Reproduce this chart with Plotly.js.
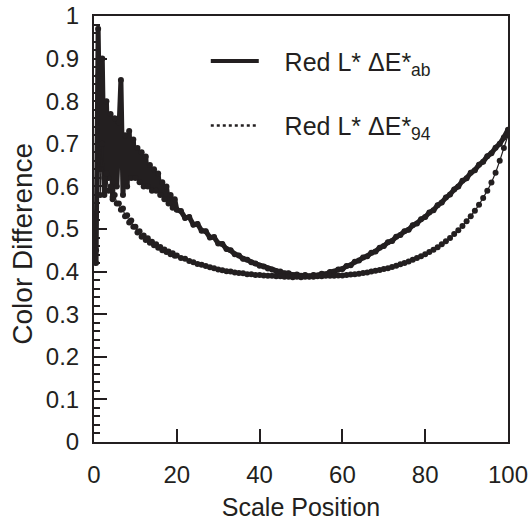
<!DOCTYPE html>
<html>
<head>
<meta charset="utf-8">
<script src="https://cdn.plot.ly/plotly-3.0.1.min.js"></script>
<style>html,body{margin:0;padding:0;background:#fff;}#chart{width:530px;height:521px;}</style>
</head>
<body>
<div id="chart"></div>
<script>
// Scale positions (x) shared by both series
const scalePosition = [
  0.5, 1, 1.5, 2, 2.5, 3, 3.5, 4, 4.5, 5, 5.5, 6, 6.5, 7, 7.5, 8, 8.5, 9, 9.5, 10,
  10.5, 11, 11.5, 12, 12.5, 13, 13.5, 14, 14.5, 15, 15.5, 16, 16.5, 17, 17.5, 18, 18.5, 19, 19.5, 20,
  21, 22, 23, 24, 25, 26, 27, 28, 29, 30, 31, 32, 33, 34, 35, 36, 37, 38, 39, 40,
  41, 42, 43, 44, 45, 46, 47, 48, 49, 50, 51, 52, 53, 54, 55, 56, 57, 58, 59, 60,
  61, 62, 63, 64, 65, 66, 67, 68, 69, 70, 71, 72, 73, 74, 75, 76, 77, 78, 79, 80,
  81, 82, 83, 84, 85, 86, 87, 88, 89, 90, 91, 92, 93, 94, 95, 96, 97, 98, 99, 100
];

// Red L* ΔE*ab (solid, noisy)
const deltaEab = [
  0.42, 0.97, 0.64, 0.90, 0.58, 0.80, 0.62, 0.77, 0.57, 0.76, 0.60, 0.75, 0.85, 0.58, 0.72, 0.60, 0.73, 0.62, 0.71, 0.62,
  0.69, 0.61, 0.68, 0.60, 0.67, 0.60, 0.65, 0.59, 0.64, 0.59, 0.63, 0.58, 0.61, 0.57, 0.60, 0.56, 0.58, 0.55, 0.57, 0.545,
  0.542, 0.526, 0.528, 0.510, 0.512, 0.496, 0.495, 0.480, 0.481, 0.466, 0.465, 0.453, 0.450, 0.441, 0.438, 0.430, 0.428, 0.422, 0.419, 0.414,
  0.412, 0.407, 0.405, 0.401, 0.400, 0.396, 0.396, 0.392, 0.393, 0.390, 0.392, 0.389, 0.392, 0.391, 0.395, 0.394, 0.399, 0.400, 0.405, 0.406,
  0.413, 0.415, 0.423, 0.426, 0.433, 0.436, 0.444, 0.447, 0.456, 0.460, 0.469, 0.472, 0.482, 0.486, 0.495, 0.498, 0.509, 0.513, 0.523, 0.528,
  0.539, 0.544, 0.556, 0.562, 0.574, 0.581, 0.593, 0.600, 0.613, 0.619, 0.632, 0.638, 0.651, 0.658, 0.671, 0.678, 0.691, 0.700, 0.715, 0.733
];

// Red L* ΔE*94 (dotted)
const deltaE94 = [
  0.45, 0.86, 0.58, 0.70, 0.62, 0.63, 0.59, 0.60, 0.575, 0.58, 0.56, 0.56, 0.545, 0.548, 0.53, 0.532, 0.515, 0.52, 0.505, 0.505,
  0.492, 0.495, 0.482, 0.485, 0.474, 0.478, 0.468, 0.470, 0.462, 0.464, 0.456, 0.458, 0.450, 0.452, 0.446, 0.447, 0.441, 0.443, 0.437, 0.438,
  0.432, 0.430, 0.425, 0.422, 0.418, 0.416, 0.413, 0.410, 0.408, 0.405, 0.403, 0.401, 0.400, 0.398, 0.397, 0.396, 0.394, 0.394, 0.392, 0.392,
  0.391, 0.390, 0.390, 0.389, 0.389, 0.388, 0.388, 0.387, 0.388, 0.387, 0.388, 0.388, 0.388, 0.389, 0.389, 0.390, 0.390, 0.390, 0.391, 0.391,
  0.392, 0.393, 0.394, 0.395, 0.397, 0.398, 0.400, 0.402, 0.404, 0.406, 0.408, 0.411, 0.414, 0.417, 0.420, 0.424, 0.428, 0.432, 0.436, 0.441,
  0.446, 0.451, 0.457, 0.464, 0.471, 0.479, 0.488, 0.497, 0.507, 0.518, 0.530, 0.543, 0.557, 0.573, 0.590, 0.609, 0.632, 0.660, 0.690, 0.720
];

const gap = '\u00a0\u00a0\u00a0';
const seriesNames = [gap + 'Red L* ΔE*<sub>ab</sub>', gap + 'Red L* ΔE*<sub>94</sub>'];
const yTitle = 'Color Difference';
const xTitle = 'Scale Position';
const ink = '#231f20';
const fontFamily = '"Liberation Sans", Arial, Helvetica, sans-serif';

const traces = [
  {x: scalePosition, y: deltaEab, mode: 'lines+markers', line: {color: ink, width: 5}, marker: {color: ink, size: 6}, showlegend: false, hoverinfo: 'skip'},
  {x: scalePosition, y: deltaE94, mode: 'lines+markers', line: {color: ink, width: 1.2}, marker: {color: ink, size: 6}, showlegend: false, hoverinfo: 'skip'},
  {x: [null], y: [null], mode: 'lines', name: seriesNames[0], line: {color: ink, width: 4}, legendgroup: 'a'},
  {x: [null], y: [null], mode: 'lines', name: seriesNames[1], line: {color: ink, width: 2.5, dash: 'dot'}, legendgroup: 'b'}
];

const layout = {
  width: 530, height: 521,
  margin: {l: 94, r: 22, t: 16, b: 79},
  paper_bgcolor: '#fff', plot_bgcolor: '#fff',
  font: {family: fontFamily, size: 24, color: ink},
  showlegend: true,
  legend: {x: 0.27, y: 0.948, xanchor: 'left', yanchor: 'top', bgcolor: 'rgba(0,0,0,0)',
           font: {size: 25, color: ink}, itemwidth: 48, tracegroupgap: 29, traceorder: 'grouped'},
  xaxis: {
    range: [0, 100], dtick: 20, tick0: 0, ticks: 'inside', ticklen: 13, tickwidth: 2, tickcolor: ink,
    showline: true, linecolor: ink, linewidth: 2, mirror: true, showgrid: false, zeroline: false,
    layer: 'above traces', showticklabels: true,
    tickfont: {size: 24, color: ink}, ticklabelstandoff: 10,
    title: {text: xTitle, font: {size: 25, color: ink}, standoff: 13}
  },
  yaxis: {
    range: [0, 1], dtick: 0.1, tick0: 0, ticks: 'inside', ticklen: 13, tickwidth: 2, tickcolor: ink,
    minor: {dtick: 0.02, ticks: 'inside', ticklen: 6, tickwidth: 1.5, tickcolor: ink},
    showline: true, linecolor: ink, linewidth: 2, mirror: true, showgrid: false, zeroline: false,
    layer: 'above traces', showticklabels: true,
    tickfont: {size: 24, color: ink}, ticklabelstandoff: 8
  },
  annotations: [
    {text: yTitle, textangle: -90, xref: 'paper', yref: 'paper', x: -0.172, y: 0.465,
     xanchor: 'center', yanchor: 'middle', showarrow: false, font: {size: 28, color: ink}}
  ]
};

Plotly.newPlot('chart', traces, layout, {displayModeBar: false});
</script>
</body>
</html>
